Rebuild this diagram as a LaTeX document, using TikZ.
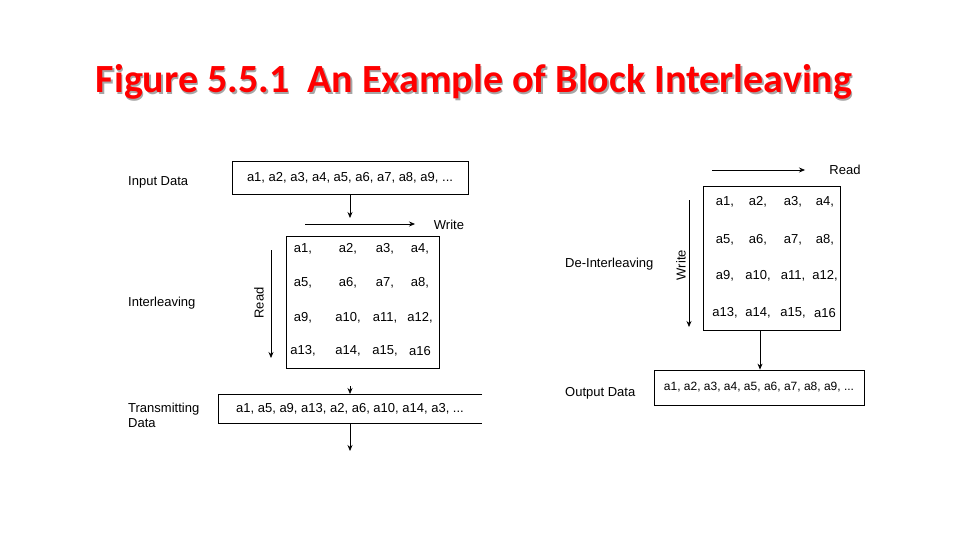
\documentclass[tikz,border=0pt]{standalone}
\usepackage{fontspec}
\setmainfont{Liberation Sans}
\newfontfamily\titlefont{Carlito}
\usetikzlibrary{arrows.meta}
\begin{document}
\begin{tikzpicture}[x=1pt,y=-1pt,
  lbl/.style={anchor=west,font=\fontsize{13}{15}\selectfont,inner sep=0},
  txt/.style={font=\fontsize{13}{15}\selectfont,inner sep=0},
  box/.style={draw,line width=0.8pt},
  arr/.style={-{Stealth[length=6pt,width=5pt]},line width=0.7pt}]
\useasboundingbox (0,0) rectangle (960,540);
\node[font=\titlefont\bfseries\fontsize{40}{44}\selectfont,text=gray!70] at (475.5,83.5) {Figure 5.5.1\ \ An Example of Block Interleaving};
\node[font=\titlefont\bfseries\fontsize{40}{44}\selectfont,text=red] (title) at (474,82) {Figure 5.5.1\ \ An Example of Block Interleaving};
% left
\node[lbl] (lin) at (128,182) {Input Data};
\node[lbl] (lint) at (128,303) {Interleaving};
\node[lbl,align=left] (ltx) at (128,415) {Transmitting\\Data};
\node[box,minimum width=236,minimum height=33,txt] (inbox) at (350,177.5) {a1, a2, a3, a4, a5, a6, a7, a8, a9, ...};
\coordinate (m1top) at (350,218);
\draw[arr] (inbox.south) -- (m1top);
\coordinate (w1) at (305,224); \coordinate (w2) at (415,224);
\draw[arr] (w1) -- (w2);
\node[txt] (wlab) at (449,225) {Write};
\node[box,minimum width=153,minimum height=132] (m1) at (362.5,302) {};
\foreach \r/\y in {0/249,1/283,2/318,3/351}{
  \foreach \c/\x in {0/303,1/348,2/385,3/420}{
    \pgfmathtruncatemacro\n{\r*4+\c+1}
    \node[txt] (l\r\c) at (\x,\y) {a\n\ifnum\n<16,\fi};
  }}
\coordinate (r1) at (271,250); \coordinate (r2) at (271,358);
\draw[arr] (r1) -- (r2);
\node[txt,rotate=90] (rlab) at (259,303) {Read};
\coordinate (tx1) at (350,386);
\coordinate (txtop) at (350,394);
\draw[arr] (tx1) -- (txtop);
\draw[line width=0.8pt] (482,394) -- (218,394) -- (218,423) -- (482,423);
\node[txt] (txbox) at (350,408.5) {a1, a5, a9, a13, a2, a6, a10, a14, a3, ...};
\coordinate (txb) at (350,423); \coordinate (txo) at (350,451);
\draw[arr] (txb) -- (txo);
% right
\node[lbl] (lde) at (565,264) {De-Interleaving};
\node[lbl] (lout) at (565,393) {Output Data};
\coordinate (rr1) at (712,170); \coordinate (rr2) at (805,170);
\draw[arr] (rr1) -- (rr2);
\node[txt] (rrlab) at (845,170) {Read};
\node[box,minimum width=137,minimum height=144] (m2) at (771.5,258) {};
\foreach \r/\y in {0/202,1/240,2/276,3/313}{
  \foreach \c/\x in {0/725,1/758,2/793,3/825}{
    \pgfmathtruncatemacro\n{\r*4+\c+1}
    \node[txt] (q\r\c) at (\x,\y) {a\n\ifnum\n<16,\fi};
  }}
\coordinate (ww1) at (689,200); \coordinate (ww2) at (689,327);
\draw[arr] (ww1) -- (ww2);
\node[txt,rotate=90] (wwlab) at (681,265) {Write};
\node[box,minimum width=210,minimum height=35,font=\fontsize{12}{14}\selectfont,inner sep=0] (outbox) at (759,387.5) {a1, a2, a3, a4, a5, a6, a7, a8, a9, ...};
\draw[arr] (760,330) -- (outbox.north-|760,0);
\end{tikzpicture}
\end{document}
